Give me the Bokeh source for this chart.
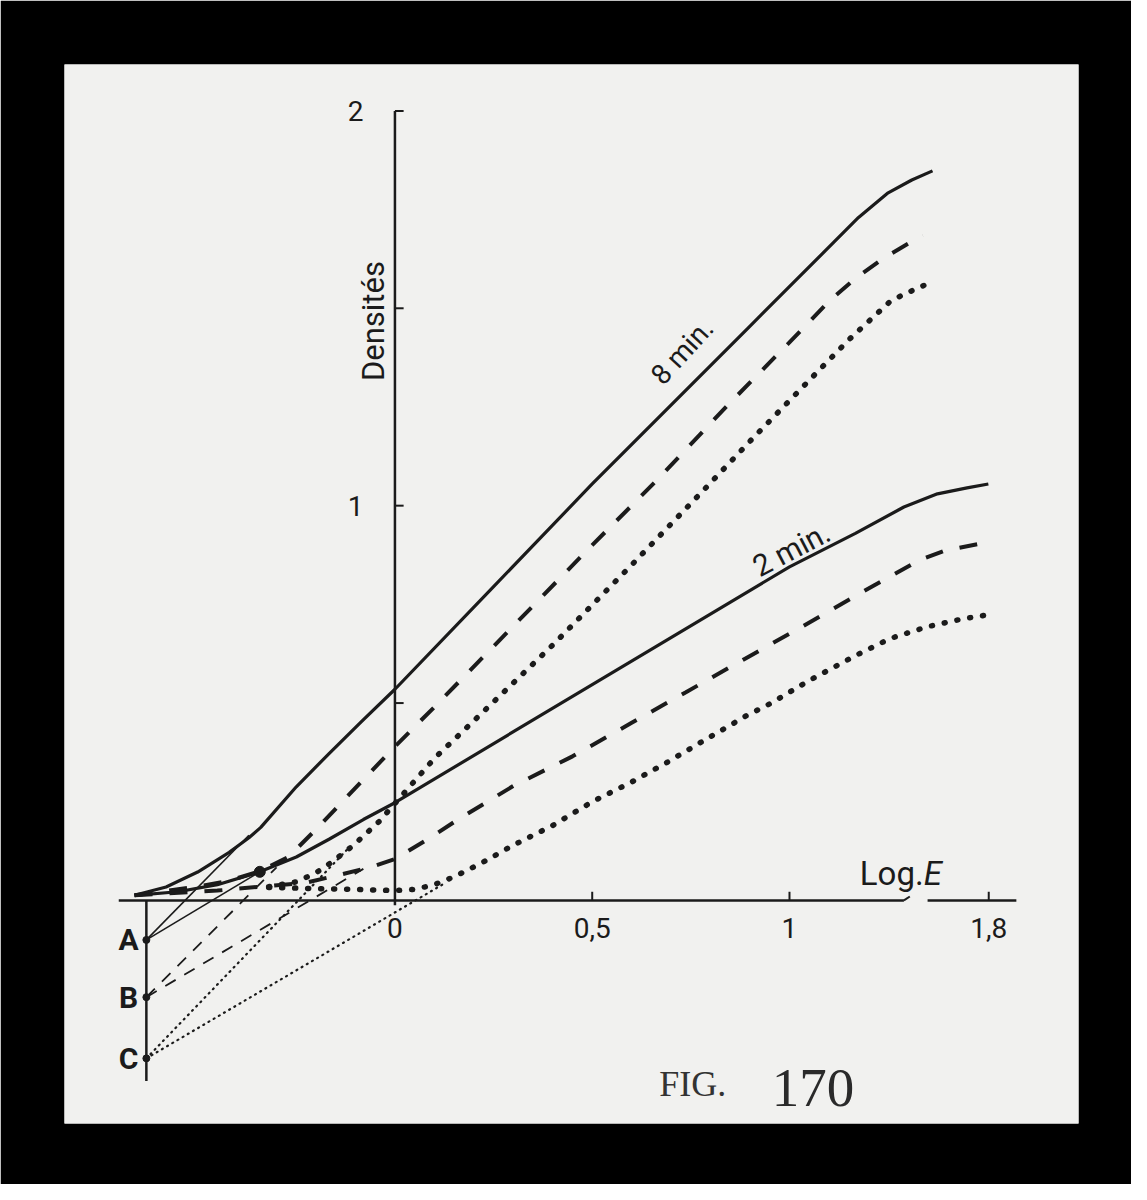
from bokeh.plotting import figure
from bokeh.models import Range1d
from bokeh.core.properties import value
from bokeh.embed import file_html
from bokeh.resources import INLINE

# ---- data (x in Log E display units; axis is broken between 1.3 and 1.35, "1,8" sits at 1.505) ----
x8_solid = [-0.66, -0.58, -0.5, -0.42, -0.37, -0.34, -0.25, -0.167, -0.083, 0.0, 0.25, 0.5, 0.9, 1.175, 1.25, 1.31, 1.3625]
y8_solid = [0.013, 0.034, 0.072, 0.122, 0.159, 0.185, 0.288, 0.372, 0.455, 0.535, 0.795, 1.055, 1.455, 1.73, 1.7925, 1.825, 1.848]

x8_dash = [-0.66, -0.5, -0.42, -0.34, -0.27, -0.2, -0.1, 0.0, 0.1, 0.3, 0.5, 0.6625, 0.842, 1.033, 1.1, 1.17, 1.24, 1.315, 1.3375]
y8_dash = [0.013, 0.035, 0.05, 0.075, 0.11, 0.18, 0.285, 0.39, 0.49, 0.695, 0.9, 1.063, 1.253, 1.4475, 1.5175, 1.578, 1.628, 1.672, 1.685]

x8_dot = [-0.32, -0.25, -0.2, -0.16, -0.105, -0.04, 0.03, 0.1, 0.2, 0.404, 0.6, 0.783, 0.904, 1.05, 1.15, 1.258, 1.333, 1.367]
y8_dot = [0.035, 0.047, 0.07, 0.097, 0.14, 0.2, 0.28, 0.36, 0.455, 0.651, 0.85, 1.04, 1.1675, 1.3175, 1.42, 1.52, 1.555, 1.5675]

x2_solid = [-0.66, -0.55, -0.45, -0.3425, -0.25, -0.167, -0.08, 0.0, 0.5, 1.0, 1.167, 1.29, 1.375, 1.45, 1.504]
y2_solid = [0.013, 0.022, 0.04, 0.0725, 0.11, 0.155, 0.205, 0.2475, 0.547, 0.845, 0.93, 0.9967, 1.03, 1.045, 1.055]

x2_dash = [-0.66, -0.45, -0.34, -0.225, -0.14, -0.06, 0.0, 0.083, 0.16, 0.3, 0.45, 0.6, 0.7375, 0.8875, 1.03, 1.1825, 1.33, 1.39, 1.4775, 1.505]
y2_dash = [0.013, 0.025, 0.035, 0.045, 0.065, 0.085, 0.105, 0.155, 0.205, 0.29, 0.365, 0.45, 0.5275, 0.6125, 0.6925, 0.78, 0.8625, 0.885, 0.9025, 0.905]

x2_dot = [-0.32, -0.2, -0.1, 0.0, 0.05, 0.1, 0.15, 0.22, 0.3, 0.4, 0.5, 0.6, 0.69, 0.8, 0.89, 0.954, 1.046, 1.167, 1.254, 1.346, 1.4375, 1.5]
y2_dot = [0.033, 0.03, 0.028, 0.025, 0.028, 0.04, 0.06, 0.095, 0.14, 0.19, 0.25, 0.3, 0.35, 0.415, 0.4675, 0.5, 0.555, 0.62, 0.663, 0.6925, 0.713, 0.723]

# extrapolated straight parts down to the points A, B, C
point_names = ["A", "B", "C"]
point_x = [-0.63, -0.63, -0.63]
point_y = [-0.1, -0.245, -0.4]
tanA_x = [[-0.63, -0.37], [-0.63, -0.3425]]
tanA_y = [[-0.1, 0.165], [-0.1, 0.0725]]
tanB_x = [[-0.63, -0.3], [-0.63, -0.08]]
tanB_y = [[-0.245, 0.084], [-0.245, 0.08]]
tanC_x = [[-0.63, -0.12], [-0.63, 0.12]]
tanC_y = [[-0.4, 0.13], [-0.4, 0.04]]

x_ticks = [0.5, 1.0, 1.505]
x_tick_labels = ["0,5", "1", "1,8"]
y_ticks = [0.5, 1.0, 1.5, 2.0]
y_tick_label_vals = [1.0, 2.0]
y_tick_labels = ["1", "2"]

INK = "#1b1b1b"

p = figure(width=1131, height=1184, output_backend="svg", toolbar_location=None,
           x_range=Range1d(-0.8375, 1.7325), y_range=Range1d(-0.565, 2.1175),
           x_axis_location=None, y_axis_location=None,
           min_border_left=64, min_border_right=53, min_border_top=64, min_border_bottom=61,
           background_fill_color="#f1f1ef", border_fill_color="black")
p.grid.visible = False
p.outline_line_color = None

# axes drawn inside the sheet
p.line([-0.7, 1.29], [0, 0], line_color=INK, line_width=2.5)
p.line([1.29, 1.305], [0, 0.01], line_color=INK, line_width=2)
p.line([1.35, 1.575], [0, 0], line_color=INK, line_width=2.5)
p.line([0, 0], [-0.012, 2.0], line_color=INK, line_width=2.5)
p.line([-0.63, -0.63], [0, -0.4575], line_color=INK, line_width=2.5)
p.segment(x0=[0] * len(y_ticks), y0=y_ticks, x1=[0.022] * len(y_ticks), y1=y_ticks, line_color=INK, line_width=2)
p.segment(x0=x_ticks, y0=[0] * len(x_ticks), x1=x_ticks, y1=[0.022] * len(x_ticks), line_color=INK, line_width=2)

# curves
p.line(x8_solid, y8_solid, line_color=INK, line_width=3.2, line_join="round")
p.line(x2_solid, y2_solid, line_color=INK, line_width=3.2, line_join="round")
p.line(x8_dash, y8_dash, line_color=INK, line_width=4, line_dash="18 17")
p.line(x2_dash, y2_dash, line_color=INK, line_width=4, line_dash="18 17")
p.line(x8_dot, y8_dot, line_color=INK, line_width=5.5, line_dash="1 12", line_cap="round")
p.line(x2_dot, y2_dot, line_color=INK, line_width=5.5, line_dash="1 12", line_cap="round")

# tangents
p.multi_line(tanA_x, tanA_y, line_color=INK, line_width=1.6)
p.multi_line(tanB_x, tanB_y, line_color=INK, line_width=1.8, line_dash="12 10")
p.multi_line(tanC_x, tanC_y, line_color=INK, line_width=2.2, line_dash="1 5", line_cap="round")
p.scatter(point_x, point_y, size=7, color=INK)
p.scatter([-0.3425], [0.0725], size=11, color=INK)

# texts
p.text(x=[0, 0.5, 1.0, 1.505], y=[-0.07] * 4, text=["0"] + x_tick_labels, text_font=value("Roboto"),
       text_font_size="28px", text_align="center", text_baseline="middle", text_color=INK)
p.text(x=[-0.08, -0.08], y=y_tick_label_vals, text=y_tick_labels, text_font=value("Roboto"),
       text_font_size="28px", text_align="right", text_baseline="middle", text_color=INK)
p.text(x=[-0.055], y=[1.4675], text=["Densités"], angle=1.5708, text_font=value("Roboto"),
       text_font_size="31px", text_align="center", text_baseline="middle", text_color=INK)
p.text(x=[1.34], y=[0.0675], text=["Log."], text_font=value("Roboto"),
       text_font_size="33px", text_align="right", text_baseline="middle", text_color=INK)
p.text(x=[1.34], y=[0.0675], text=["E"], text_font=value("Roboto"), text_font_style="italic",
       text_font_size="33px", text_align="left", text_baseline="middle", text_color=INK)
p.text(x=[-0.675] * 3, y=point_y, text=point_names, text_font=value("Roboto"), text_font_style="bold",
       text_font_size="30px", text_align="center", text_baseline="middle", text_color=INK)
p.text(x=[0.728], y=[1.39], text=["8 min."], angle=0.83, text_font=value("Roboto"),
       text_font_size="28px", text_align="center", text_baseline="middle", text_color=INK)
p.text(x=[1.005], y=[0.89], text=["2 min."], angle=0.48, text_font=value("Roboto"),
       text_font_size="30px", text_align="center", text_baseline="middle", text_color=INK)
p.text(x=[0.67], y=[-0.465], text=["FIG."], text_font=value("Liberation Serif"),
       text_font_size="36px", text_align="left", text_baseline="alphabetic", text_color="#333333")
p.text(x=[0.955], y=[-0.475], text=["170"], text_font=value("Liberation Serif"),
       text_font_size="55px", text_align="left", text_baseline="alphabetic", text_color="#2a2a2a")

open("out.html", "w").write(file_html(p, INLINE))
